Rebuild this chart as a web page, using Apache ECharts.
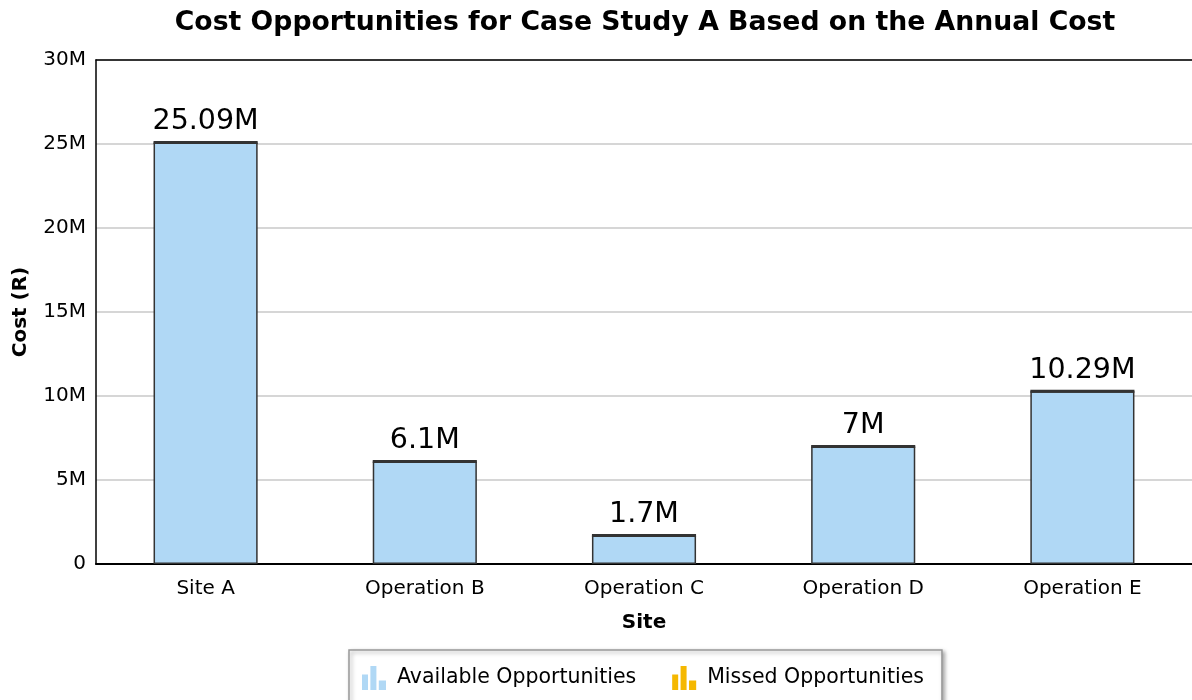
<!DOCTYPE html>
<html><head><meta charset="utf-8">
<script src="https://cdn.jsdelivr.net/npm/echarts@6/dist/echarts.min.js"></script>
<style>html,body{margin:0;padding:0;background:#fff}#c{width:1192px;height:700px}</style>
</head><body><div id="c"></div>
<script>
const categories = ['Site A', 'Operation B', 'Operation C', 'Operation D', 'Operation E'];
const available = [25090000, 6100000, 1700000, 7000000, 10290000];
const missed = [0, 0, 0, 0, 0];
const yTicks = [0, 5000000, 10000000, 15000000, 20000000, 25000000, 30000000];

const fmtM = v => v === 0 ? '0' : (Math.round(v / 1e4) / 100) + 'M';
const icon = 'path://M0,7 L5,7 L5,20 L0,20 Z M7,0 L12,0 L12,20 L7,20 Z M14,12 L20,12 L20,20 L14,20 Z';
const font = 'DejaVu Sans';

const chart = echarts.init(document.getElementById('c'), null, {renderer: 'canvas'});
chart.setOption({
  animation: false,
  textStyle: {fontFamily: font},
  title: {
    text: 'Cost Opportunities for Case Study A Based on the Annual Cost',
    left: 645, textAlign: 'center', top: 10, padding: 0,
    textStyle: {fontFamily: font, fontWeight: 'bold', fontSize: 26.7, color: '#000'}
  },
  grid: {left: 96, right: 0, top: 60, bottom: 136, containLabel: false, outerBoundsMode: 'none'},
  legend: {
    top: 650, left: 349,
    data: [
      {name: 'Available Opportunities', icon: icon, itemStyle: {color: '#b0d8f5', borderWidth: 0}},
      {name: 'Missed Opportunities', icon: icon, itemStyle: {color: '#f5b800', borderWidth: 0}}
    ],
    itemWidth: 24, itemHeight: 24, itemGap: 36,
    padding: [16, 18, 28, 13],
    backgroundColor: '#fff', borderColor: '#999', borderWidth: 1.5,
    shadowColor: 'rgba(0,0,0,0.35)', shadowBlur: 4, shadowOffsetX: 2, shadowOffsetY: 2,
    textStyle: {fontFamily: font, fontSize: 20.5, color: '#000', padding: [0, 0, 0, 6]}
  },
  xAxis: [{
    type: 'category', data: categories,
    name: 'Site', nameLocation: 'middle', nameGap: 49,
    nameTextStyle: {fontFamily: font, fontWeight: 'bold', fontSize: 20, color: '#000'},
    axisLine: {lineStyle: {color: '#000', width: 2}},
    axisTick: {show: false},
    axisLabel: {fontFamily: font, fontSize: 20, color: '#000', margin: 15}
  }, {
    type: 'category', data: categories, position: 'top',
    axisLine: {show: true, lineStyle: {color: '#000', width: 1.5}},
    axisTick: {show: false}, axisLabel: {show: false}, splitLine: {show: false}
  }],
  yAxis: {
    type: 'value', min: 0, max: 30000000, interval: 5000000,
    name: 'Cost (R)', nameLocation: 'middle', nameGap: 65, nameRotate: 90,
    nameTextStyle: {fontFamily: font, fontWeight: 'bold', fontSize: 20, color: '#000'},
    axisLine: {show: true, lineStyle: {color: '#000', width: 1.5}},
    axisTick: {show: false},
    axisLabel: {fontFamily: font, fontSize: 20, color: '#000', margin: 10, padding: [6, 0, 0, 0], formatter: v => yTicks.includes(v) ? fmtM(v) : ''},
    splitLine: {lineStyle: {color: '#c8c8c8', width: 1.5}}
  },
  series: [
    {
      name: 'Available Opportunities', type: 'bar', stack: 'cost', data: available,
      barWidth: '47.5%',
      itemStyle: {color: '#b0d8f5', borderColor: '#333', borderWidth: 1.5},
      label: {show: true, position: 'top', distance: 6, fontFamily: font, fontSize: 28.5, color: '#000', formatter: p => fmtM(p.value)}
    },
    {
      name: 'Missed Opportunities', type: 'bar', stack: 'cost', data: missed,
      barWidth: '47.5%',
      itemStyle: {color: '#f5b800', borderColor: '#333', borderWidth: 3}
    }
  ]
});
</script></body></html>
